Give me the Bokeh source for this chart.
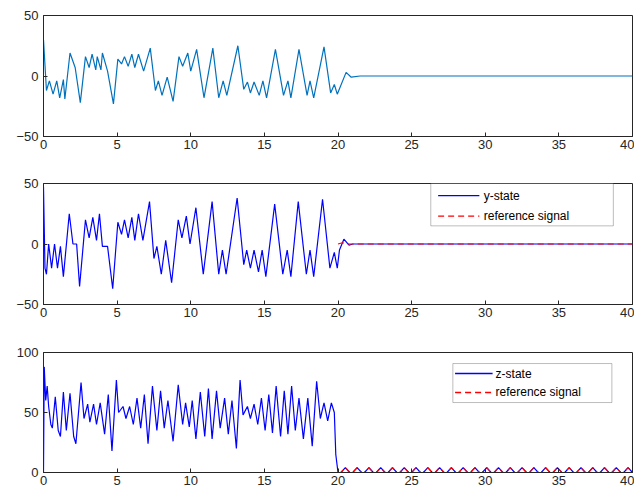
from bokeh.plotting import figure
from bokeh.layouts import column
from bokeh.models import Range1d, BoxAnnotation, Label
from bokeh.embed import file_html
from bokeh.resources import INLINE

x_t = [0,0.2,0.4,0.65,0.9,1.1,1.35,1.45,1.8,2.15,2.5,2.85,3.1,3.3,3.55,3.65,3.9,4.0,4.35,4.75,5.05,5.3,5.5,5.75,6.0,6.2,6.45,6.8,7.25,7.6,7.8,8.05,8.4,8.8,9.2,9.45,9.8,10.0,10.4,10.9,11.5,11.9,12.2,12.45,13.2,13.6,13.85,14.05,14.3,14.65,14.9,15.15,15.75,16.3,16.6,16.8,17.35,17.9,18.1,18.35,19.05,19.5,19.75,19.95,20.55,20.9,21.5,40]
x_v = [30,-12,-4,-15,-4,-18,-3,-19,19,7,-22,16,7,18,5,16,5,19,4,-23,14,10,16,8,18,7,18,4,23,-12,-4,-16,-1,-21,16,8,19,4,22,-18,23,-18,-4,-16,25,-11,-5,-14,-5,-16,-4,-18,22,-16,-4,-18,22,-16,-4,-18,24,-14,-7,-15,3,-1,0,0]

y_t = [0,0.1,0.2,0.35,0.55,0.75,0.95,1.15,1.35,1.75,2.0,2.25,2.45,2.85,3.1,3.35,3.6,3.8,4.0,4.35,4.7,5.05,5.3,5.5,5.75,6.0,6.2,6.45,6.75,7.2,7.5,7.7,8.0,8.3,8.7,9.15,9.4,9.7,9.95,10.35,10.85,11.45,11.9,12.15,12.4,13.15,13.6,13.8,14.05,14.3,14.6,14.85,15.1,15.7,16.25,16.55,16.8,17.3,17.85,18.1,18.35,18.95,19.45,19.75,19.95,20.1,20.4,20.75,21,40]
y_v = [47,-20,-25,0,-20,0,-20,-2,-27,25,0,0,-35,20,5,22,3,25,-2,-2,-37,18,8,20,5,22,3,25,3,35,-12,-2,-25,3,-32,20,5,23,0,30,-25,35,-25,-5,-25,38,-17,-5,-20,-5,-23,-5,-27,33,-25,-5,-27,35,-25,-5,-27,37,-20,-7,-20,-5,4,-1,0,0]
yref_t = [20,20.3,20.6,40]
yref_v = [0,1,0,0]

z_t = [0,0.05,0.15,0.25,0.35,0.5,0.6,0.8,1.0,1.15,1.35,1.55,1.8,2.05,2.2,2.55,2.75,3.0,3.15,3.4,3.6,3.85,4.15,4.4,4.65,4.95,5.1,5.4,5.6,5.85,6.1,6.35,6.6,6.85,7.1,7.4,7.7,7.95,8.2,8.45,8.8,9.15,9.45,9.65,9.9,10.1,10.35,10.65,10.95,11.2,11.45,11.75,12.0,12.3,12.55,12.8,13.1,13.35,13.55,13.85,14.05,14.3,14.55,14.8,15.05,15.3,15.55,15.8,16.1,16.35,16.6,16.85,17.1,17.35,17.65,17.95,18.25,18.55,18.8,19.05,19.3,19.55,19.75,19.85,20.0]
z_v = [0,88,60,72,55,40,37,63,35,30,67,35,66,30,24,75,45,57,42,57,40,58,32,65,18,77,50,55,45,55,40,62,37,65,24,72,35,68,37,60,26,73,40,58,38,60,28,67,30,70,28,68,37,62,32,60,20,77,48,55,45,57,40,62,35,65,33,72,30,68,32,72,35,62,28,62,22,76,45,58,43,58,50,15,0]
bump_peaks = [20.5,21.3,22.1,22.9,23.7,24.5,25.3,26.1,26.9,27.7,28.5,29.3,30.1,30.9,31.7,32.5,33.3,34.1,34.9,35.7,36.5,37.3,38.1,38.9,39.7]
bump_height = 4
bump_half = 0.3

zb_t, zb_v = [], []
for c in bump_peaks:
    zb_t += [c - bump_half, c, c + bump_half]
    zb_v += [0, bump_height, 0]
z_t2 = z_t + zb_t + [40]
z_v2 = z_v + zb_v + [0]
zr_t = [20.0] + zb_t + [40]
zr_v = [0] + zb_v + [0]

FONT = "Liberation Sans"
BLUE, RED = "#0000FF", "#FF0000"

def mk(h, bt, bb, yr, yticks):
    p = figure(width=634, height=h, x_range=Range1d(0, 40), y_range=Range1d(*yr),
               output_backend="svg", toolbar_location=None,
               min_border_left=43, min_border_right=2, min_border_top=bt, min_border_bottom=bb)
    p.xgrid.visible = False
    p.ygrid.visible = False
    p.outline_line_color = "#262626"
    p.xaxis.ticker = [0,5,10,15,20,25,30,35,40]
    p.yaxis.ticker = yticks
    for ax in (p.xaxis[0], p.yaxis[0]):
        ax.major_tick_in = 4
        ax.major_tick_out = 0
        ax.minor_tick_line_color = None
        ax.axis_line_color = "#262626"
        ax.major_tick_line_color = "#262626"
        ax.major_label_text_font = FONT
        ax.major_label_text_font_size = "13px"
        ax.major_label_text_color = "#262626"
    p.xaxis.major_label_standoff = 3
    p.yaxis.major_label_standoff = 5
    return p

def legend(p, name, box, rows, gx, lx):
    l, r, b, t = box
    p.add_layout(BoxAnnotation(left=l, right=r, bottom=b, top=t, fill_color="white", fill_alpha=1,
                               line_color="#262626", line_width=1, level="underlay"))
    for y, lab, col, dash in [(rows[0], name, BLUE, "solid"), (rows[1], "reference signal", RED, "6 4")]:
        p.line(gx, [y, y], color=col, line_width=1.4, line_dash=dash)
        p.add_layout(Label(x=lx, y=y, text=lab, text_font=FONT, text_font_size="12px",
                           text_color="#000000", text_baseline="middle"))

p1 = mk(176, 15, 40, (-50, 50), [-50, 0, 50])
p1.line(x_t, x_v, color="#0072BD", line_width=1.2)

p2 = mk(168, 7, 40, (-50, 50), [-50, 0, 50])
legend(p2, "y-state", (26.3, 38.7, 15, 50), (40, 23), [26.8, 29.6], 29.9)
p2.line(y_t, y_v, color=BLUE, line_width=1.2)
p2.line(yref_t, yref_v, color=RED, line_width=1.2, line_dash="6 4")

p3 = mk(156, 8, 28, (0, 100), [0, 50, 100])
legend(p3, "z-state", (27.8, 38.6, 58.3, 90.8), (82.5, 66.7), [27.95, 30.5], 30.7)
p3.line(z_t2, z_v2, color=BLUE, line_width=1.2)
p3.line(zr_t, zr_v, color=RED, line_width=1.2, line_dash="6 4")

layout = column(p1, p2, p3, spacing=0)
open("out.html", "w").write(file_html(layout, INLINE))
